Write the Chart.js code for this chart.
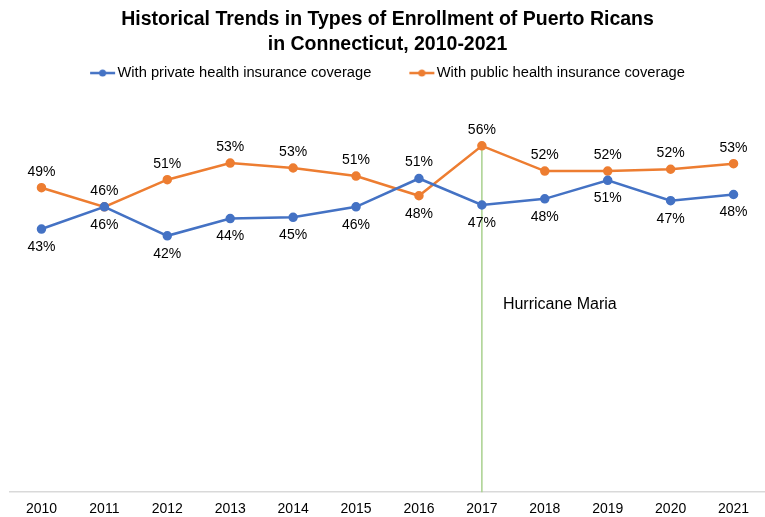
<!DOCTYPE html>
<html>
<head>
<meta charset="utf-8">
<script src="https://cdn.jsdelivr.net/npm/chart.js@4/dist/chart.umd.min.js"></script>
<style>
  html, body { margin: 0; padding: 0; background: #fff; overflow: hidden; }
  #wrap { width: 765px; height: 517px; position: relative; }
</style>
</head>
<body>
<div id="wrap"><canvas id="c"></canvas></div>
<script>
// Enrollment shares (%) of Puerto Ricans in Connecticut by coverage type
const years = ['2010', '2011', '2012', '2013', '2014', '2015', '2016', '2017', '2018', '2019', '2020', '2021'];
const privateCoverage = [42.7, 46.3, 41.6, 44.4, 44.6, 46.3, 50.9, 46.6, 47.6, 50.6, 47.3, 48.3];
const publicCoverage = [49.4, 46.3, 50.7, 53.4, 52.6, 51.3, 48.1, 56.2, 52.1, 52.1, 52.4, 53.3];
const seriesNames = ['With private health insurance coverage', 'With public health insurance coverage'];
const eventYear = '2017';
const eventLabel = 'Hurricane Maria';
const eventLabelLevel = 30.5;

const BLUE = '#4472c4';
const ORANGE = '#ed7d31';
const FONT = '"Liberation Sans", Arial, sans-serif';

// label placement per dataset: above or below each point
const labelSide = [
  ['b', 'b', 'b', 'b', 'b', 'b', 'a', 'b', 'b', 'b', 'b', 'b'],
  ['a', 'a', 'a', 'a', 'a', 'a', 'b', 'a', 'a', 'a', 'a', 'a']
];

// legend symbol: short line with a dot, drawn toward the right of its canvas
function legendIcon(color) {
  const c = document.createElement('canvas');
  c.width = 32; c.height = 8;
  const g = c.getContext('2d');
  g.strokeStyle = color; g.lineWidth = 2.5;
  g.beginPath(); g.moveTo(6, 4); g.lineTo(31, 4); g.stroke();
  g.fillStyle = color;
  g.beginPath(); g.arc(18.5, 4, 3.5, 0, Math.PI * 2); g.fill();
  return c;
}
const icons = [legendIcon(BLUE), legendIcon(ORANGE)];

// extra room between the legend and the plot
const legendGap = {
  id: 'legendGap',
  beforeInit(chart) {
    const fit = chart.legend.fit;
    chart.legend.fit = function () {
      fit.call(this);
      this.height += 32;
    };
  }
};

// vertical marker line for the event year plus its caption
const eventMarker = {
  id: 'eventMarker',
  beforeDatasetsDraw(chart) {
    const x = chart.scales.x.getPixelForValue(years.indexOf(eventYear));
    const yTop = chart.scales.y.getPixelForValue(publicCoverage[years.indexOf(eventYear)]);
    const yBot = chart.scales.y.getPixelForValue(0);
    const ctx = chart.ctx;
    ctx.save();
    ctx.strokeStyle = '#a9d18e';
    ctx.lineWidth = 1.5;
    ctx.beginPath(); ctx.moveTo(x, yTop); ctx.lineTo(x, yBot); ctx.stroke();
    ctx.fillStyle = '#000';
    ctx.font = '16px ' + FONT;
    ctx.textAlign = 'left';
    ctx.textBaseline = 'middle';
    ctx.fillText(eventLabel, x + 21, chart.scales.y.getPixelForValue(eventLabelLevel));
    ctx.restore();
  }
};

// percentage labels next to every point
const pointLabels = {
  id: 'pointLabels',
  afterDatasetsDraw(chart) {
    const ctx = chart.ctx;
    ctx.save();
    ctx.fillStyle = '#000';
    ctx.font = '14px ' + FONT;
    ctx.textAlign = 'center';
    ctx.textBaseline = 'middle';
    chart.data.datasets.forEach((ds, di) => {
      chart.getDatasetMeta(di).data.forEach((pt, i) => {
        const txt = Math.round(ds.data[i]) + '%';
        const dy = labelSide[di][i] === 'a' ? -16 : 18;
        ctx.fillText(txt, pt.x, pt.y + dy);
      });
    });
    ctx.restore();
  }
};

new Chart(document.getElementById('c'), {
  type: 'line',
  data: {
    labels: years,
    datasets: [
      { label: seriesNames[0], data: privateCoverage, borderColor: BLUE, backgroundColor: BLUE,
        borderWidth: 2.5, pointRadius: 3.5, pointHoverRadius: 3.5, tension: 0 },
      { label: seriesNames[1], data: publicCoverage, borderColor: ORANGE, backgroundColor: ORANGE,
        borderWidth: 2.5, pointRadius: 3.5, pointHoverRadius: 3.5, tension: 0 }
    ]
  },
  options: {
    responsive: true,
    maintainAspectRatio: false,
    animation: false,
    layout: { autoPadding: false, padding: { left: 10, right: 0, top: 4, bottom: -10 } },
    plugins: {
      tooltip: { enabled: false },
      title: {
        display: true,
        text: ['Historical Trends in Types of Enrollment of Puerto Ricans', 'in Connecticut, 2010-2021'],
        color: '#000',
        font: { family: FONT, size: 19.5, weight: 'bold', lineHeight: 1.3 },
        padding: { top: 3, bottom: -30 }
      },
      legend: {
        display: true,
        labels: {
          color: '#000',
          font: { family: FONT, size: 14.7 },
          usePointStyle: true,
          pointStyleWidth: 20,
          padding: 38,
          generateLabels(chart) {
            const items = Chart.defaults.plugins.legend.labels.generateLabels(chart);
            items.forEach((it, i) => { it.pointStyle = icons[i]; });
            return items;
          }
        }
      }
    },
    scales: {
      x: {
        offset: true,
        grid: { display: false, drawTicks: false },
        border: { display: true, color: '#d9d9d9', width: 1.5 },
        ticks: { color: '#000', font: { family: FONT, size: 14 }, padding: 9 }
      },
      y: {
        display: false,
        min: 0,
        max: 60
      }
    }
  },
  plugins: [legendGap, eventMarker, pointLabels]
});
</script>
</body>
</html>
